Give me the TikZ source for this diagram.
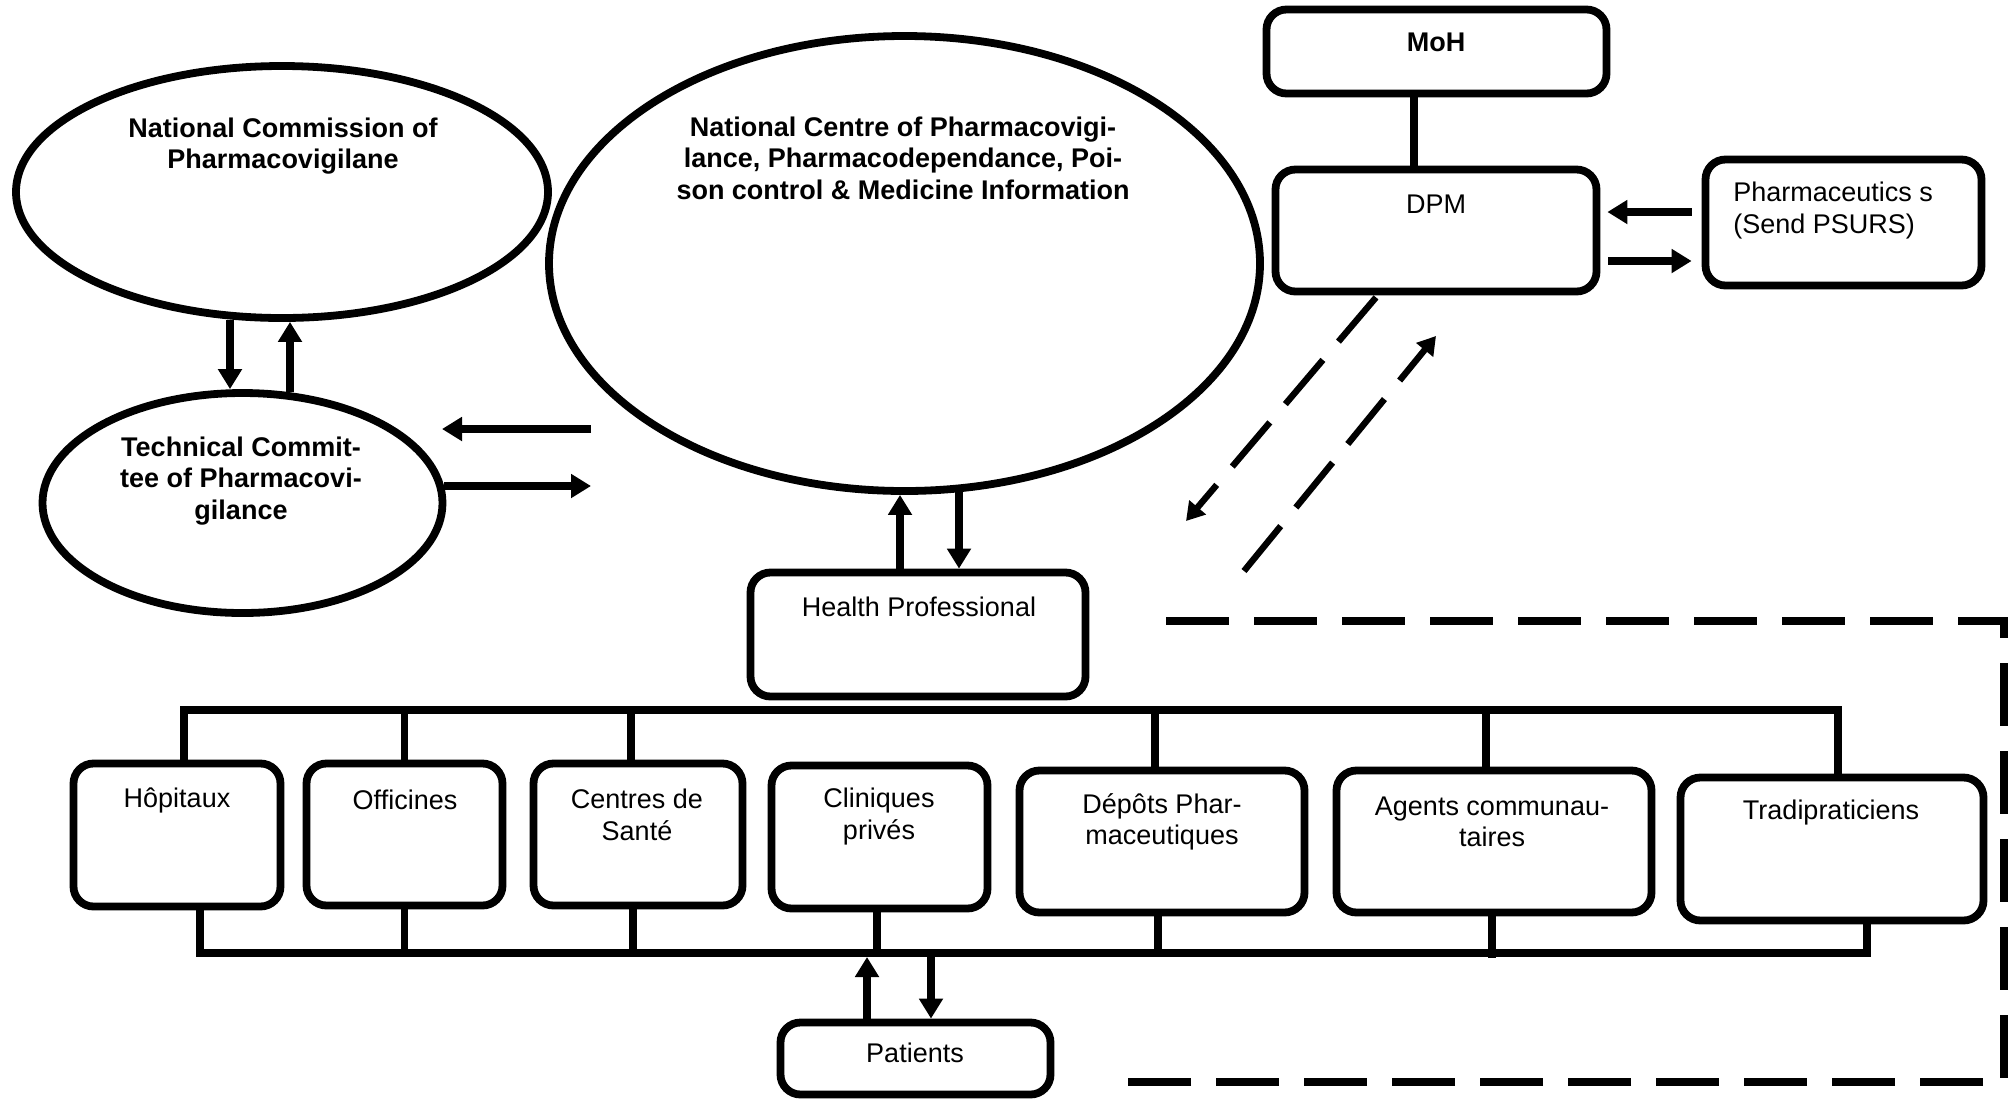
\documentclass[tikz,border=0pt]{standalone}
\usepackage{fontspec}
\setmainfont{Liberation Sans}
\usetikzlibrary{arrows.meta,shapes.geometric,calc}
\begin{document}
\begin{tikzpicture}[x=0.5pt,y=-0.5pt,
 ell/.style={ellipse, draw, line width=3.9pt, inner sep=0pt},
 rbox/.style={rectangle, rounded corners=10pt, draw, line width=3.9pt, inner sep=0pt},
 txt/.style={align=center, inner sep=0pt, font=\fontsize{13.5}{15.75}\selectfont},
 btxt/.style={align=center, inner sep=0pt, font=\fontsize{13.5}{15.75}\selectfont\bfseries},
 ln/.style={line width=3.7pt},
 arr/.style={line width=3.7pt, -{Triangle[length=10pt,width=11.5pt]}},
 darr/.style={line width=3.2pt, dash pattern=on 29pt off 12pt, -{Triangle[length=9pt,width=10.5pt]}},
 drect/.style={line width=3.7pt, dash pattern=on 31.5pt off 12.5pt}
]
\useasboundingbox (0,0) rectangle (2013,1099);

% ellipses
\node[ell, minimum width=266pt, minimum height=126pt] (natcomm) at (282,192) {};
\node[btxt] (natcommt) at (283,146) {National Commission of\\Pharmacovigilane};
\node[ell, minimum width=200pt, minimum height=110pt] (tech) at (242.5,503) {};
\node[btxt] (techt) at (241,481) {Technical Commit-\\tee of Pharmacovi-\\gilance};
\node[ell, minimum width=355.5pt, minimum height=227.5pt] (ncentre) at (904.5,263.5) {};
\node[btxt] (ncentret) at (903,158) {National Centre of Pharmacovigi-\\lance, Pharmacodependance, Poi-\\son control \& Medicine Information};

% top-right boxes
\node[rbox, minimum width=170pt, minimum height=42pt] (moh) at (1436.5,51.5) {};
\node[btxt] (moht) at (1436,42) {MoH};
\node[rbox, minimum width=160.5pt, minimum height=61pt] (dpm) at (1436,230.5) {};
\node[txt] (dpmt) at (1436,204) {DPM};
\node[rbox, minimum width=138pt, minimum height=63pt] (pharma) at (1843.5,222.5) {};
\node[txt, align=left, anchor=west] (pharmat) at (1733,210.5) {Pharmaceutics s\\(Send PSURS)};

% health professional
\node[rbox, minimum width=167.5pt, minimum height=62pt] (hp) at (918,634.5) {};
\node[txt] (hpt) at (919,607) {Health Professional};

% row of boxes
\node[rbox, minimum width=103.5pt, minimum height=71.5pt] (hop) at (177,835) {};
\node[txt] (hopt) at (177,800) {Hôpitaux};
\node[rbox, minimum width=98pt, minimum height=71pt] (off) at (404.5,834.5) {};
\node[txt] (offt) at (405,800) {Officines};
\node[rbox, minimum width=104.5pt, minimum height=71pt] (cen) at (638,834.5) {};
\node[txt] (cent) at (637,815) {Centres de\\Santé};
\node[rbox, minimum width=108pt, minimum height=71.5pt] (cli) at (879.5,837) {};
\node[txt] (clit) at (879,816.5) {Cliniques\\privés};
\node[rbox, minimum width=142.5pt, minimum height=71pt] (dep) at (1162,841.5) {};
\node[txt] (dept) at (1162,822) {Dépôts Phar-\\maceutiques};
\node[rbox, minimum width=157.5pt, minimum height=71pt] (agt) at (1494,841.5) {};
\node[txt] (agtt) at (1492,822) {Agents communau-\\taires};
\node[rbox, minimum width=151.5pt, minimum height=71.5pt] (trad) at (1832,849) {};
\node[txt] (tradt) at (1831,813) {Tradipraticiens};

% patients
\node[rbox, minimum width=135pt, minimum height=36pt] (pat) at (915.5,1058.5) {};
\node[txt] (patt) at (915,1053) {Patients};

% free-end coordinates
\coordinate (la1) at (591,429);
\coordinate (la2) at (442,429);
\coordinate (ra2) at (591,486);
\coordinate (d1e) at (1186,521);
\coordinate (d2s) at (1244,571);
\coordinate (d2e) at (1436,336);
\coordinate (tbL) at (184,710);
\coordinate (tbR) at (1838,710);
\coordinate (bbL) at (200,953);
\coordinate (bbR) at (1867,953);
\coordinate (r1) at (1166,621);
\coordinate (r2) at (2004,621);
\coordinate (r3) at (2004,1082);
\coordinate (r4) at (1106,1082);

% commission <-> technical committee
\draw[arr] ($(natcomm.south)+(-52,-2)$) -- ($(tech.north)+(-12.5,0)$);
\draw[arr] ($(tech.north)+(47.5,3)$) -- ($(natcomm.south)+(8,0)$);

% technical committee <-> centre
\draw[arr] (la1) -- (la2);
\draw[arr] ($(tech.east)+(-2,-17)$) -- (ra2);

% centre <-> health professional
\draw[arr] ($(hp.north)+(-18,0)$) -- ($(ncentre.south)+(-4.5,0)$);
\draw[arr] ($(ncentre.south)+(54.5,-3)$) -- ($(hp.north)+(41,0)$);

% MoH - DPM
\draw[ln] ($(moh.south)+(-22.5,0)$) coordinate (md) -- (md |- dpm.north);

% DPM <-> pharmaceutics
\draw[arr] ($(pharma.west)+(-10,-10.5)$) -- ($(dpm.east)+(7,-18.5)$);
\draw[arr] ($(dpm.east)+(8,30.5)$) -- ($(pharma.west)+(-10,38.5)$);

% dashed arrows
\draw[darr] ($(dpm.south)+(-60,2)$) -- (d1e);
\draw[darr] (d2s) -- (d2e);

% dashed rectangle
\draw[drect] (r1) -- (r2) -- (r3) -- (r4);

% top bus
\draw[ln] (hop.north -| tbL) -- (tbL) -- (tbR) -- (trad.north -| tbR);
\draw[ln] (off.north) -- (off.north |- tbL);
\draw[ln] ($(cen.north)+(-7,0)$) coordinate (c1) -- (c1 |- tbL);
\draw[ln] ($(dep.north)+(-7,0)$) coordinate (c2) -- (c2 |- tbL);
\draw[ln] ($(agt.north)+(-8,0)$) coordinate (c3) -- (c3 |- tbL);

% bottom bus
\draw[ln] (hop.south -| bbL) -- (bbL) -- (bbR) -- (trad.south -| bbR);
\draw[ln] (off.south) -- (off.south |- bbL);
\draw[ln] ($(cen.south)+(-5,0)$) coordinate (c4) -- (c4 |- bbL);
\draw[ln] ($(cli.south)+(-2.5,0)$) coordinate (c5) -- (c5 |- bbL);
\draw[ln] ($(dep.south)+(-4,0)$) coordinate (c6) -- (c6 |- bbL);
\draw[ln] ($(agt.south)+(-2,0)$) coordinate (c7) -- ($(c7 |- bbL)+(0,5)$);

% patients
\draw[arr] ($(pat.north)+(-48.5,0)$) coordinate (pu) -- ($(pu |- bbL)+(0,4)$);
\draw[arr] ($(pat.north)+(15.5,0)$) coordinate (pd) ($(pd |- bbL)+(0,3)$) -- (pd);
\end{tikzpicture}
\end{document}
